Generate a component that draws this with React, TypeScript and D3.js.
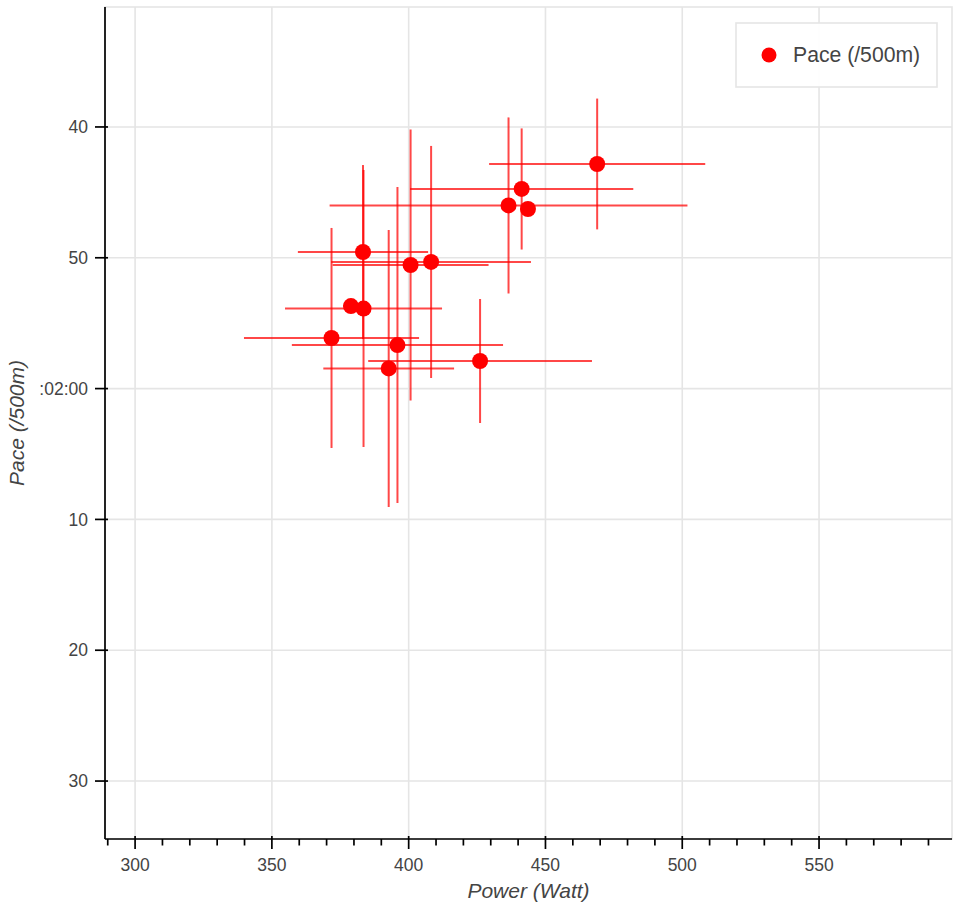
import React from "react";
import * as d3 from "d3";

// Data: power (Watt), pace (seconds per 500m), and their std (null = no error bar)
const power = [468.9, 441.3, 436.5, 443.6, 383.3, 400.7, 408.2, 378.9, 383.5, 371.8, 395.9, 426.1, 392.7];
const pace = [102.83, 104.74, 106.0, 106.27, 109.56, 110.55, 110.32, 113.69, 113.88, 116.13, 116.67, 117.89, 118.46];
const powerErr: (number | null)[] = [39.5, 40.8, 65.4, null, 23.8, 28.5, 36.5, null, 28.7, 32.0, 38.6, 40.9, 23.9];
const paceErr: (number | null)[] = [5.0, 4.63, 6.73, null, 6.65, 10.36, 8.87, null, 10.59, 8.41, 12.08, 4.74, 10.59];

const xTicks = [300, 350, 400, 450, 500, 550];
const xMinorTicks = d3.range(290, 600, 10).filter((v) => v % 50 !== 0);
const yTicks = [100, 110, 120, 130, 140, 150];
const yTickLabels = ["40", "50", ":02:00", "10", "20", "30"];

const legendLabel = "Pace (/500m)";
const xLabel = "Power (Watt)";
const yLabel = "Pace (/500m)";

const W = 960;
const H = 912;
const left = 105;
const right = 952;
const top = 7;
const bottom = 839;

export default function App() {
  const x = d3.scaleLinear().domain([289.0, 598.6]).range([left, right]);
  const y = d3.scaleLinear().domain([90.83, 154.43]).range([top, bottom]);
  const font = "'Liberation Sans', Arial, Helvetica, sans-serif";
  const grid = "#e5e5e5";
  const textCol = "#444444";
  const errCol = "rgba(255,0,0,0.72)";

  return (
    <svg
      width={W}
      height={H}
      style={{ position: "absolute", left: 0, top: 0, display: "block", background: "#fff" }}
      fontFamily={font}
    >
      <rect x={0} y={0} width={W} height={H} fill="#fff" />
      {/* grid */}
      {xTicks.map((t) => (
        <line key={"gx" + t} x1={x(t)} x2={x(t)} y1={top} y2={bottom} stroke={grid} strokeWidth={1.6} />
      ))}
      {yTicks.map((t) => (
        <line key={"gy" + t} x1={left} x2={right} y1={y(t)} y2={y(t)} stroke={grid} strokeWidth={1.6} />
      ))}
      {/* outline */}
      <rect x={left} y={top} width={right - left} height={bottom - top} fill="none" stroke={grid} strokeWidth={1.6} />

      {/* error bars */}
      {power.map((p, i) =>
        powerErr[i] != null ? (
          <line
            key={"ex" + i}
            x1={x(p - (powerErr[i] as number))}
            x2={x(p + (powerErr[i] as number))}
            y1={y(pace[i])}
            y2={y(pace[i])}
            stroke={errCol}
            strokeWidth={2}
          />
        ) : null
      )}
      {power.map((p, i) =>
        paceErr[i] != null ? (
          <line
            key={"ey" + i}
            x1={x(p)}
            x2={x(p)}
            y1={y(pace[i] - (paceErr[i] as number))}
            y2={y(pace[i] + (paceErr[i] as number))}
            stroke={errCol}
            strokeWidth={2}
          />
        ) : null
      )}
      {/* points */}
      {power.map((p, i) => (
        <circle key={"pt" + i} cx={x(p)} cy={y(pace[i])} r={8} fill="#ff0000" />
      ))}

      {/* x axis */}
      <line x1={left} x2={right} y1={bottom} y2={bottom} stroke="#000" strokeWidth={1.7} />
      {xTicks.map((t) => (
        <g key={"xt" + t}>
          <line x1={x(t)} x2={x(t)} y1={bottom - 3} y2={bottom + 10} stroke="#000" strokeWidth={1.7} />
          <text x={x(t)} y={bottom + 32} textAnchor="middle" fontSize={17.5} fill={textCol}>
            {t}
          </text>
        </g>
      ))}
      {xMinorTicks.map((t) => (
        <line key={"xm" + t} x1={x(t)} x2={x(t)} y1={bottom} y2={bottom + 6.5} stroke="#000" strokeWidth={1.7} />
      ))}
      <text x={(left + right) / 2} y={898} textAnchor="middle" fontSize={21} fontStyle="italic" fill={textCol}>
        {xLabel}
      </text>

      {/* y axis */}
      <line x1={left} x2={left} y1={top} y2={bottom} stroke="#000" strokeWidth={1.7} />
      {yTicks.map((t, i) => (
        <g key={"yt" + t}>
          <line x1={left - 10} x2={left + 3} y1={y(t)} y2={y(t)} stroke="#000" strokeWidth={1.7} />
          <text x={left - 17} y={y(t)} dy="0.35em" textAnchor="end" fontSize={17.5} fill={textCol}>
            {yTickLabels[i]}
          </text>
        </g>
      ))}
      <text
        transform={`translate(24,${(top + bottom) / 2}) rotate(-90)`}
        textAnchor="middle"
        fontSize={21}
        fontStyle="italic"
        fill={textCol}
      >
        {yLabel}
      </text>

      {/* legend */}
      <rect x={736} y={23} width={201} height={64} fill="#fff" fillOpacity={0.95} stroke={grid} strokeWidth={1.6} />
      <circle cx={769} cy={55} r={7.5} fill="#ff0000" />
      <text x={793} y={55} dy="0.35em" fontSize={21.2} fill={textCol}>
        {legendLabel}
      </text>
    </svg>
  );
}
